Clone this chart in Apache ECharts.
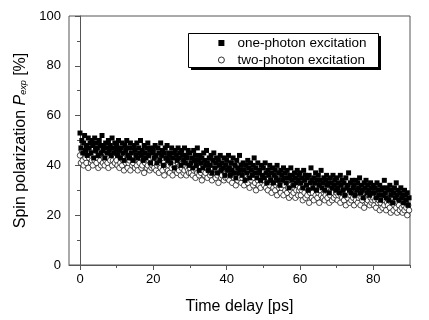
<!DOCTYPE html>
<html>
<head>
<meta charset="utf-8">
<script src="https://cdn.jsdelivr.net/npm/echarts@6/dist/echarts.min.js"></script>
<style>
  html, body { margin: 0; padding: 0; background: #fff; }
  #chart { width: 429px; height: 320px; }
</style>
</head>
<body>
<div id="chart"></div>
<script>
// sampling grid of the delay scan (ps)
const timeStep = 0.25;

// one-photon excitation, P_exp [%] (10 ps per row)
const onePhoton = [
  53, 47, 50, 45, 49, 52, 46, 48, 44, 51, 47, 49, 45, 50, 48, 43, 51, 46, 49, 47, 44, 50, 48, 45, 52, 46, 48, 43, 49, 47, 45, 50, 46, 48, 44, 51, 47, 45, 49, 46,
  48, 44, 50, 46, 43, 47, 49, 45, 42, 48, 46, 50, 44, 47, 43, 49, 45, 47, 42, 48, 46, 44, 49, 43, 47, 45, 50, 44, 46, 42, 48, 45, 43, 47, 49, 44, 46, 41, 47, 45,
  46, 43, 48, 44, 41, 47, 45, 42, 49, 44, 46, 40, 45, 47, 43, 48, 42, 45, 44, 41, 47, 43, 45, 39, 46, 44, 42, 47, 43, 45, 40, 46, 44, 42, 47, 41, 44, 43, 46, 40,
  45, 41, 43, 39, 46, 42, 44, 40, 47, 42, 38, 44, 41, 43, 39, 45, 42, 40, 46, 41, 38, 43, 40, 44, 37, 42, 45, 39, 41, 43, 37, 42, 40, 44, 38, 41, 39, 43, 36, 40,
  42, 38, 44, 39, 36, 41, 38, 43, 37, 40, 35, 42, 39, 37, 44, 38, 40, 36, 41, 38, 34, 40, 37, 42, 39, 35, 41, 38, 36, 40, 43, 37, 39, 35, 41, 37, 38, 34, 40, 36,
  39, 35, 41, 37, 33, 38, 36, 40, 34, 37, 39, 33, 36, 38, 35, 40, 34, 37, 32, 38, 36, 34, 39, 35, 37, 33, 38, 35, 31, 36, 39, 34, 36, 32, 37, 35, 33, 38, 34, 36,
  37, 33, 35, 31, 38, 34, 36, 32, 35, 30, 36, 33, 39, 34, 31, 35, 33, 37, 30, 34, 36, 32, 34, 38, 31, 33, 35, 30, 34, 36, 32, 33, 29, 35, 33, 31, 36, 32, 34, 30,
  35, 31, 33, 29, 36, 32, 34, 30, 33, 28, 35, 31, 32, 37, 30, 33, 29, 34, 31, 32, 28, 34, 30, 33, 31, 35, 29, 32, 30, 27, 33, 31, 34, 29, 32, 30, 28, 33, 31, 29,
  32, 29, 31, 27, 33, 30, 28, 32, 26, 30, 31, 28, 34, 29, 27, 31, 30, 26, 32, 28, 30, 25, 29, 31, 27, 33, 28, 30, 26, 29, 31, 27, 28, 25, 30, 28, 26, 29, 24, 27
];

// two-photon excitation, P_exp [%]
const twoPhoton = [
  44, 41, 46, 42, 40, 45, 43, 41, 44, 39, 43, 45, 41, 42, 40, 44, 42, 46, 41, 43, 39, 44, 42, 40, 45, 41, 43, 40, 42, 44, 41, 39, 43, 42, 45, 40, 42, 44, 41, 43,
  42, 40, 44, 39, 41, 43, 40, 42, 38, 43, 41, 44, 39, 41, 42, 38, 43, 40, 41, 44, 39, 42, 40, 38, 42, 41, 43, 39, 40, 42, 37, 41, 43, 39, 40, 42, 38, 41, 39, 40,
  41, 39, 43, 38, 40, 42, 37, 40, 39, 42, 38, 41, 36, 40, 39, 43, 38, 40, 37, 41, 39, 36, 40, 42, 38, 39, 37, 41, 38, 40, 36, 39, 41, 37, 38, 40, 36, 39, 38, 37,
  39, 37, 41, 36, 38, 40, 35, 38, 37, 42, 36, 39, 37, 34, 38, 40, 36, 37, 39, 35, 38, 41, 36, 37, 34, 39, 37, 40, 35, 38, 36, 33, 37, 39, 35, 36, 38, 34, 37, 35,
  37, 35, 39, 34, 36, 41, 33, 36, 35, 38, 32, 36, 34, 37, 35, 40, 33, 35, 37, 32, 36, 34, 38, 33, 35, 31, 36, 34, 37, 32, 35, 33, 30, 36, 34, 32, 35, 31, 34, 33,
  34, 32, 36, 31, 33, 30, 35, 32, 34, 29, 33, 31, 35, 30, 32, 28, 33, 31, 34, 29, 31, 33, 28, 32, 30, 34, 29, 31, 27, 32, 30, 28, 33, 29, 31, 27, 30, 32, 28, 30,
  31, 28, 30, 26, 32, 29, 27, 31, 28, 30, 25, 29, 32, 27, 29, 26, 31, 28, 30, 27, 29, 25, 30, 28, 32, 27, 29, 26, 28, 31, 27, 29, 25, 28, 30, 26, 29, 27, 31, 28,
  29, 26, 28, 31, 25, 28, 27, 30, 26, 28, 24, 29, 27, 31, 25, 28, 26, 29, 27, 24, 28, 26, 30, 25, 27, 29, 24, 27, 26, 28, 23, 27, 29, 25, 26, 28, 24, 27, 25, 26,
  27, 24, 26, 23, 28, 25, 26, 22, 25, 27, 23, 26, 24, 28, 22, 25, 24, 26, 23, 21, 25, 27, 22, 24, 26, 23, 21, 25, 24, 22, 26, 23, 21, 24, 22, 25, 23, 20, 24, 22
];

const xMajorTicks = [0, 20, 40, 60, 80];
const xMinorTicks = [10, 30, 50, 70, 90];

const toPoints = (vals) => vals.map((v, i) => [i * timeStep, v]);

const font = "Liberation Sans, Arial, sans-serif";
const axisColor = "#555";

const myChart = echarts.init(document.getElementById("chart"), null, { renderer: "canvas" });

const option = {
  animation: false,
  grid: {
    left: 69, right: 19, top: 16, bottom: 55,
    show: true, borderColor: axisColor, borderWidth: 1
  },
  // legend frame with its hard drop shadow
  graphic: [
    { type: "rect", z: 10, shape: { x: 191, y: 36, width: 190, height: 34 }, style: { fill: "#000" } },
    { type: "rect", z: 11, shape: { x: 188.5, y: 33.5, width: 190, height: 34 }, style: { fill: "#fff", stroke: "#000", lineWidth: 1 } }
  ],
  legend: {
    orient: "vertical",
    left: 188, top: 33,
    z: 20,
    padding: [3, 8, 2, 30],
    itemGap: 3,
    itemWidth: 6, itemHeight: 6,
    textStyle: { fontFamily: font, fontSize: 13.5, color: "#000", lineHeight: 14, padding: [0, 0, 0, 8] },
    data: [
      { name: "one-photon excitation", icon: "rect", itemStyle: { color: "#000" } },
      { name: "two-photon excitation", icon: "circle", itemStyle: { color: "#fff", borderColor: "#000", borderWidth: 0.8 } }
    ]
  },
  xAxis: [
    {
      type: "value", min: -3, max: 90,
      name: "Time delay [ps]", nameLocation: "middle", nameGap: 34,
      nameTextStyle: { fontFamily: font, fontSize: 16, color: "#000" },
      axisLine: { show: true, lineStyle: { color: axisColor } },
      axisTick: { show: true, inside: false, length: 5, customValues: xMajorTicks, lineStyle: { color: axisColor } },
      axisLabel: { customValues: xMajorTicks, margin: 8, fontFamily: font, fontSize: 13, color: "#000" },
      splitLine: { show: false }
    },
    {
      type: "value", min: -3, max: 90, position: "bottom",
      axisLine: { show: false },
      axisTick: { show: true, inside: false, length: 3, customValues: xMinorTicks, lineStyle: { color: axisColor } },
      axisLabel: { show: false },
      splitLine: { show: false }
    }
  ],
  yAxis: {
    type: "value", min: 0, max: 100, interval: 20,
    name: "Spin polarization {i|P}{s|exp} [%]", nameLocation: "middle", nameGap: 34,
    nameTextStyle: {
      fontFamily: font, fontSize: 16, color: "#000",
      rich: {
        i: { fontFamily: font, fontSize: 16, fontStyle: "italic", color: "#000" },
        s: { fontFamily: font, fontSize: 9, fontStyle: "italic", color: "#000", verticalAlign: "bottom", padding: [7, 0, 0, 0] }
      }
    },
    axisLine: { show: true, lineStyle: { color: axisColor } },
    axisTick: { show: true, inside: false, length: 5, lineStyle: { color: axisColor } },
    minorTick: { show: true, splitNumber: 2, length: 3, lineStyle: { color: axisColor } },
    axisLabel: { margin: 8, fontFamily: font, fontSize: 13, color: "#000" },
    splitLine: { show: false }
  },
  series: [
    {
      name: "two-photon excitation",
      type: "scatter",
      symbol: "circle", symbolSize: 5.5,
      itemStyle: { color: "#fff", borderColor: "#000", borderWidth: 0.7, opacity: 1 },
      z: 2,
      data: toPoints(twoPhoton)
    },
    {
      name: "one-photon excitation",
      type: "scatter",
      symbol: "rect", symbolSize: 5,
      itemStyle: { color: "#000", opacity: 1 },
      z: 3,
      data: toPoints(onePhoton)
    }
  ]
};

myChart.setOption(option);
</script>
</body>
</html>
